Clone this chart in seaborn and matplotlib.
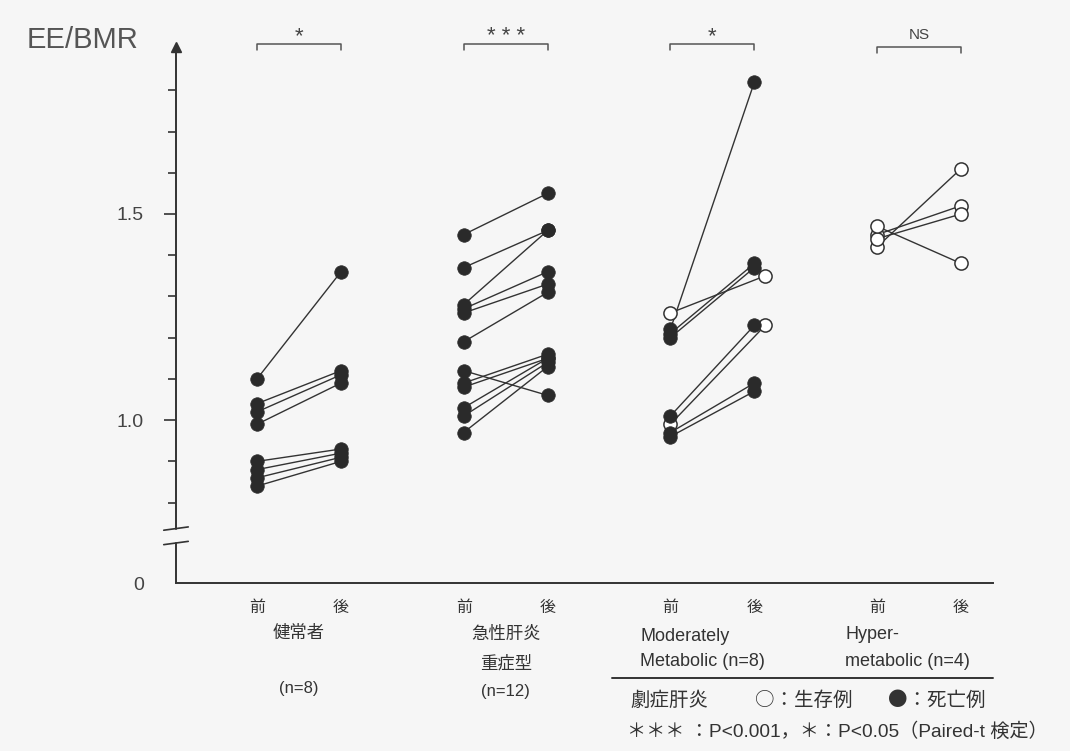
import matplotlib
matplotlib.use("Agg")
import numpy as np
import pandas as pd
import matplotlib.pyplot as plt
import seaborn as sns

# ---- data ----
group_names = ["健常者", "急性肝炎重症型", "Moderately Metabolic", "Hyper-metabolic"]
sig_marks = ["*", "* * *", "*", "NS"]
phase_labels = ["前", "後"]

healthy_pre = [1.10, 1.04, 1.02, 0.99, 0.90, 0.88, 0.86, 0.84]
healthy_post = [1.36, 1.12, 1.11, 1.09, 0.93, 0.92, 0.91, 0.90]
healthy_alive = [0, 0, 0, 0, 0, 0, 0, 0]

ah_pre = [1.45, 1.37, 1.28, 1.27, 1.26, 1.19, 1.12, 1.09, 1.08, 1.03, 1.01, 0.97]
ah_post = [1.55, 1.46, 1.46, 1.36, 1.33, 1.31, 1.06, 1.16, 1.15, 1.15, 1.14, 1.13]
ah_alive = [0] * 12

mod_pre = [1.22, 1.26, 1.21, 1.20, 1.01, 0.99, 0.97, 0.96]
mod_post = [1.82, 1.35, 1.38, 1.37, 1.23, 1.23, 1.09, 1.07]
mod_alive = [0, 1, 0, 0, 0, 1, 0, 0]

hyper_pre = [1.42, 1.45, 1.44, 1.47]
hyper_post = [1.61, 1.52, 1.50, 1.38]
hyper_alive = [1, 1, 1, 1]

series = [
    (healthy_pre, healthy_post, healthy_alive),
    (ah_pre, ah_post, ah_alive),
    (mod_pre, mod_post, mod_alive),
    (hyper_pre, hyper_post, hyper_alive),
]

# layout constants
group_gap = 2.46
zero_pos = 0.605          # where "0" sits below the axis break
open_dodge = {(2, 1): 0.13}

rows = []
pid = 0
for g, (pre, post, alive) in enumerate(series):
    for a, b, s in zip(pre, post, alive):
        for ph, v in enumerate([a, b]):
            x = g * group_gap + ph + (open_dodge.get((g, ph), 0) if s else 0)
            rows.append(dict(pid=pid, group=g, phase=ph, x=x, value=v, alive=s))
        pid += 1
df = pd.DataFrame(rows)

sns.set_theme(style="white")
plt.rcParams["font.family"] = ["Liberation Sans", "Noto Sans CJK JP", "DejaVu Sans"]

ink = "#333333"
bg = "#f6f6f6"

fig = plt.figure(figsize=(10.7, 7.51), dpi=100, facecolor=bg)
ax = fig.add_axes([176 / 1070, 168 / 751, (993 - 176) / 1070, (583 - 47) / 751])
ax.set_facecolor(bg)

sns.lineplot(data=df, x="x", y="value", units="pid", estimator=None,
             color=ink, lw=1.0, ax=ax, legend=False, zorder=2)
sns.scatterplot(data=df[df.alive == 1], x="x", y="value", color="white",
                edgecolor=ink, linewidth=1.1, s=90, ax=ax, legend=False, zorder=3)
sns.scatterplot(data=df[df.alive == 0], x="x", y="value", color="#2a2a2a",
                edgecolor="#2a2a2a", linewidth=0.5, s=95, ax=ax, legend=False, zorder=4)

ax.set_xlim(-0.964, 8.76)
ax.set_ylim(zero_pos, 1.905)

# x ticks: 前 / 後
xt = [g * group_gap + ph for g in range(4) for ph in range(2)]
ax.set_xticks(xt)
ax.set_xticklabels(phase_labels * 4, fontsize=11.5, color=ink)
ax.tick_params(axis="x", length=0, pad=12)

# y ticks
ax.set_yticks([zero_pos, 1.0, 1.5])
ax.set_yticklabels(["0", "1.0", "1.5"], fontsize=14, color="#444444")
ax.set_yticks([0.8, 0.9, 1.1, 1.2, 1.3, 1.4, 1.6, 1.7, 1.8], minor=True)
ax.tick_params(axis="y", which="major", left=True, length=9, width=1.2, color=ink, pad=14)
ax.tick_params(axis="y", which="minor", left=True, length=6, width=1.2, color=ink)
ax.yaxis.get_major_ticks()[0].tick1line.set_visible(False)
ax.set_xlabel("")
ax.set_ylabel("")

for side in ["top", "right", "left"]:
    ax.spines[side].set_visible(False)
ax.spines["bottom"].set_color(ink)
ax.spines["bottom"].set_linewidth(1.4)

# broken y axis with arrow
yt = ax.get_yaxis_transform()
ax.plot([0, 0], [zero_pos, 0.702], color=ink, lw=1.4, transform=yt, clip_on=False)
ax.plot([0, 0], [0.737, 1.90], color=ink, lw=1.4, transform=yt, clip_on=False)
for yb in [0.702, 0.737]:
    ax.plot([-0.015, 0.015], [yb - 0.004, yb + 0.004], color=ink, lw=1.2,
            transform=yt, clip_on=False)
ax.plot([0], [1.905], marker="^", ms=7, color=ink, transform=yt, clip_on=False)

# significance brackets
for g, mark in enumerate(sig_marks):
    x0 = g * group_gap
    x1 = x0 + 1
    yb = 1.912 if g < 3 else 1.905
    ax.plot([x0, x0, x1, x1], [yb - 0.015, yb, yb, yb - 0.015], color="#555555",
            lw=1.1, clip_on=False)
    if mark == "NS":
        ax.text((x0 + x1) / 2, yb + 0.03, mark, ha="center", va="center",
                fontsize=11, color="#444444")
    else:
        ax.text((x0 + x1) / 2, yb + 0.018, mark, ha="center", va="center",
                fontsize=16, color="#444444")

# group labels under the axis
xf = ax.get_xaxis_transform()
lab_kw = dict(color=ink, transform=xf, clip_on=False)
c0 = 0 * group_gap + 0.5
ax.text(c0, -0.093, "健常者", ha="center", va="center", fontsize=12.5, **lab_kw)
ax.text(c0, -0.196, "(n=8)", ha="center", va="center", fontsize=12, **lab_kw)
c1 = 1 * group_gap + 0.5
ax.text(c1, -0.095, "急性肝炎", ha="center", va="center", fontsize=12.5, **lab_kw)
ax.text(c1, -0.149, "重症型", ha="center", va="center", fontsize=12.5, **lab_kw)
ax.text(c1, -0.203, "(n=12)", ha="center", va="center", fontsize=12, **lab_kw)
l2 = 2 * group_gap - 0.36
ax.text(l2, -0.099, "Moderately", ha="left", va="center", fontsize=13, **lab_kw)
ax.text(l2, -0.146, "Metabolic (n=8)", ha="left", va="center", fontsize=13, **lab_kw)
l3 = 3 * group_gap - 0.38
ax.text(l3, -0.097, "Hyper-", ha="left", va="center", fontsize=13, **lab_kw)
ax.text(l3, -0.147, "metabolic (n=4)", ha="left", va="center", fontsize=13, **lab_kw)
ax.plot([4.23, 8.76], [-0.177, -0.177], color=ink, lw=1.4, transform=xf, clip_on=False)

# y label and footnotes
fig.text(27 / 1070, 1 - 40 / 751, "EE/BMR", ha="left", va="center",
         fontsize=21, color="#555555")
foot_y1 = 1 - 700 / 751
cjk = ["Noto Sans CJK JP", "DejaVu Sans"]
fig.text(630 / 1070, foot_y1, "劇症肝炎", ha="left", va="center", fontsize=14,
         color=ink, family=cjk)
fig.text(755 / 1070, foot_y1, "○：生存例", ha="left", va="center", fontsize=14,
         color=ink, family=cjk)
fig.text(888 / 1070, foot_y1, "●：死亡例", ha="left", va="center", fontsize=14,
         color=ink, family=cjk)
fig.text(627 / 1070, 1 - 732 / 751, "＊＊＊ ：P<0.001，＊：P<0.05（Paired-t 検定）",
         ha="left", va="center", fontsize=13.8, color=ink)

fig.savefig("out.png", dpi=100, facecolor=bg)
